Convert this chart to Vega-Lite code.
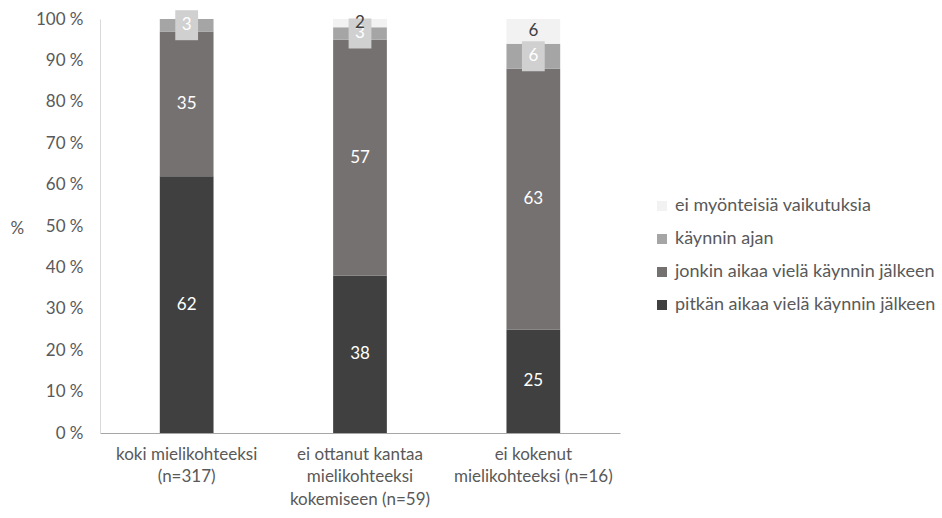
{
  "$schema": "https://vega.github.io/schema/vega-lite/v6.json",
  "width": 520,
  "height": 414,
  "autosize": {"type": "none"},
  "padding": {"left": 100, "top": 19, "right": 322, "bottom": 85},
  "background": "white",
  "config": {
    "view": {"stroke": null},
    "font": "Lato",
    "axis": {"labelFont": "Lato", "titleFont": "Lato", "labelColor": "#595959", "titleColor": "#595959", "labelFontSize": 17, "titleFontSize": 17, "titleFontWeight": "normal", "grid": false, "ticks": false, "labelOverlap": false},
    "legend": {"labelFont": "Lato", "labelFontSize": 18, "labelColor": "#595959", "labelLimit": 0}
  },
  "data": {
    "values": [
      {"cat": "koki mielikohteeksi|(n=317)", "ci": 1, "s": "pitkän aikaa vielä käynnin jälkeen", "o": 1, "v": 62},
      {"cat": "koki mielikohteeksi|(n=317)", "ci": 1, "s": "jonkin aikaa vielä käynnin jälkeen", "o": 2, "v": 35},
      {"cat": "koki mielikohteeksi|(n=317)", "ci": 1, "s": "käynnin ajan", "o": 3, "v": 3},
      {"cat": "koki mielikohteeksi|(n=317)", "ci": 1, "s": "ei myönteisiä vaikutuksia", "o": 4, "v": 0},
      {"cat": "ei ottanut kantaa|mielikohteeksi|kokemiseen (n=59)", "ci": 2, "s": "pitkän aikaa vielä käynnin jälkeen", "o": 1, "v": 38},
      {"cat": "ei ottanut kantaa|mielikohteeksi|kokemiseen (n=59)", "ci": 2, "s": "jonkin aikaa vielä käynnin jälkeen", "o": 2, "v": 57},
      {"cat": "ei ottanut kantaa|mielikohteeksi|kokemiseen (n=59)", "ci": 2, "s": "käynnin ajan", "o": 3, "v": 3},
      {"cat": "ei ottanut kantaa|mielikohteeksi|kokemiseen (n=59)", "ci": 2, "s": "ei myönteisiä vaikutuksia", "o": 4, "v": 2},
      {"cat": "ei kokenut|mielikohteeksi (n=16)", "ci": 3, "s": "pitkän aikaa vielä käynnin jälkeen", "o": 1, "v": 25},
      {"cat": "ei kokenut|mielikohteeksi (n=16)", "ci": 3, "s": "jonkin aikaa vielä käynnin jälkeen", "o": 2, "v": 63},
      {"cat": "ei kokenut|mielikohteeksi (n=16)", "ci": 3, "s": "käynnin ajan", "o": 3, "v": 6},
      {"cat": "ei kokenut|mielikohteeksi (n=16)", "ci": 3, "s": "ei myönteisiä vaikutuksia", "o": 4, "v": 6}
    ]
  },
  "encoding": {
    "x": {
      "field": "cat", "type": "nominal",
      "sort": ["koki mielikohteeksi|(n=317)", "ei ottanut kantaa|mielikohteeksi|kokemiseen (n=59)", "ei kokenut|mielikohteeksi (n=16)"],
      "scale": {"paddingInner": 0.69, "paddingOuter": 0.345},
      "axis": {"title": null, "labelAngle": 0, "labelExpr": "split(datum.label, '|')", "labelPadding": 21, "labelLineHeight": 22.5, "domainColor": "#a6a6a6", "labelBaseline": "middle"}
    }
  },
  "layer": [
    {
      "mark": {"type": "bar"},
      "encoding": {
        "y": {
          "field": "v", "type": "quantitative", "stack": "zero",
          "scale": {"domain": [0, 100]},
          "axis": {"title": "%", "titleAngle": 0, "titleX": -90, "titleY": 209, "titleAlign": "left", "titleBaseline": "middle", "values": [0,10,20,30,40,50,60,70,80,90,100], "labelExpr": "datum.value + ' %'", "labelPadding": 17, "domainColor": "#d9d9d9"}
        },
        "order": {"field": "o", "type": "quantitative", "sort": "ascending"},
        "color": {
          "field": "s", "type": "nominal",
          "scale": {
            "domain": ["ei myönteisiä vaikutuksia", "käynnin ajan", "jonkin aikaa vielä käynnin jälkeen", "pitkän aikaa vielä käynnin jälkeen"],
            "range": ["#f2f2f2", "#a5a5a5", "#767171", "#404040"]
          },
          "legend": {"title": null, "orient": "none", "legendX": 553, "legendY": 178, "symbolType": "square", "symbolSize": 100, "symbolStrokeWidth": 0, "rowPadding": 15, "labelOffset": 4}
        }
      }
    },
    {
      "transform": [
        {"stack": "v", "groupby": ["cat"], "sort": [{"field": "o"}], "as": ["v0", "v1"]},
        {"calculate": "(datum.v0 + datum.v1) / 2", "as": "mid"},
        {"filter": "datum.v > 0 && datum.o == 3"}
      ],
      "mark": {"type": "point", "shape": "M-0.38,-0.5H0.38V0.5H-0.38Z", "size": 3600, "filled": true, "color": "#d0d0d0", "opacity": 1, "strokeWidth": 0},
      "encoding": {
        "y": {"field": "mid", "type": "quantitative"}
      }
    },
    {
      "transform": [
        {"stack": "v", "groupby": ["cat"], "sort": [{"field": "o"}], "as": ["v0", "v1"]},
        {"calculate": "(datum.v0 + datum.v1) / 2", "as": "mid"},
        {"filter": "datum.v > 0"}
      ],
      "mark": {"type": "text", "fontSize": 17, "font": "Lato", "baseline": "middle"},
      "encoding": {
        "y": {"field": "mid", "type": "quantitative"},
        "text": {"field": "v", "type": "quantitative"},
        "color": {
          "condition": {"test": "datum.o == 4", "value": "#404040"},
          "value": "#ffffff"
        }
      }
    }
  ]
}
